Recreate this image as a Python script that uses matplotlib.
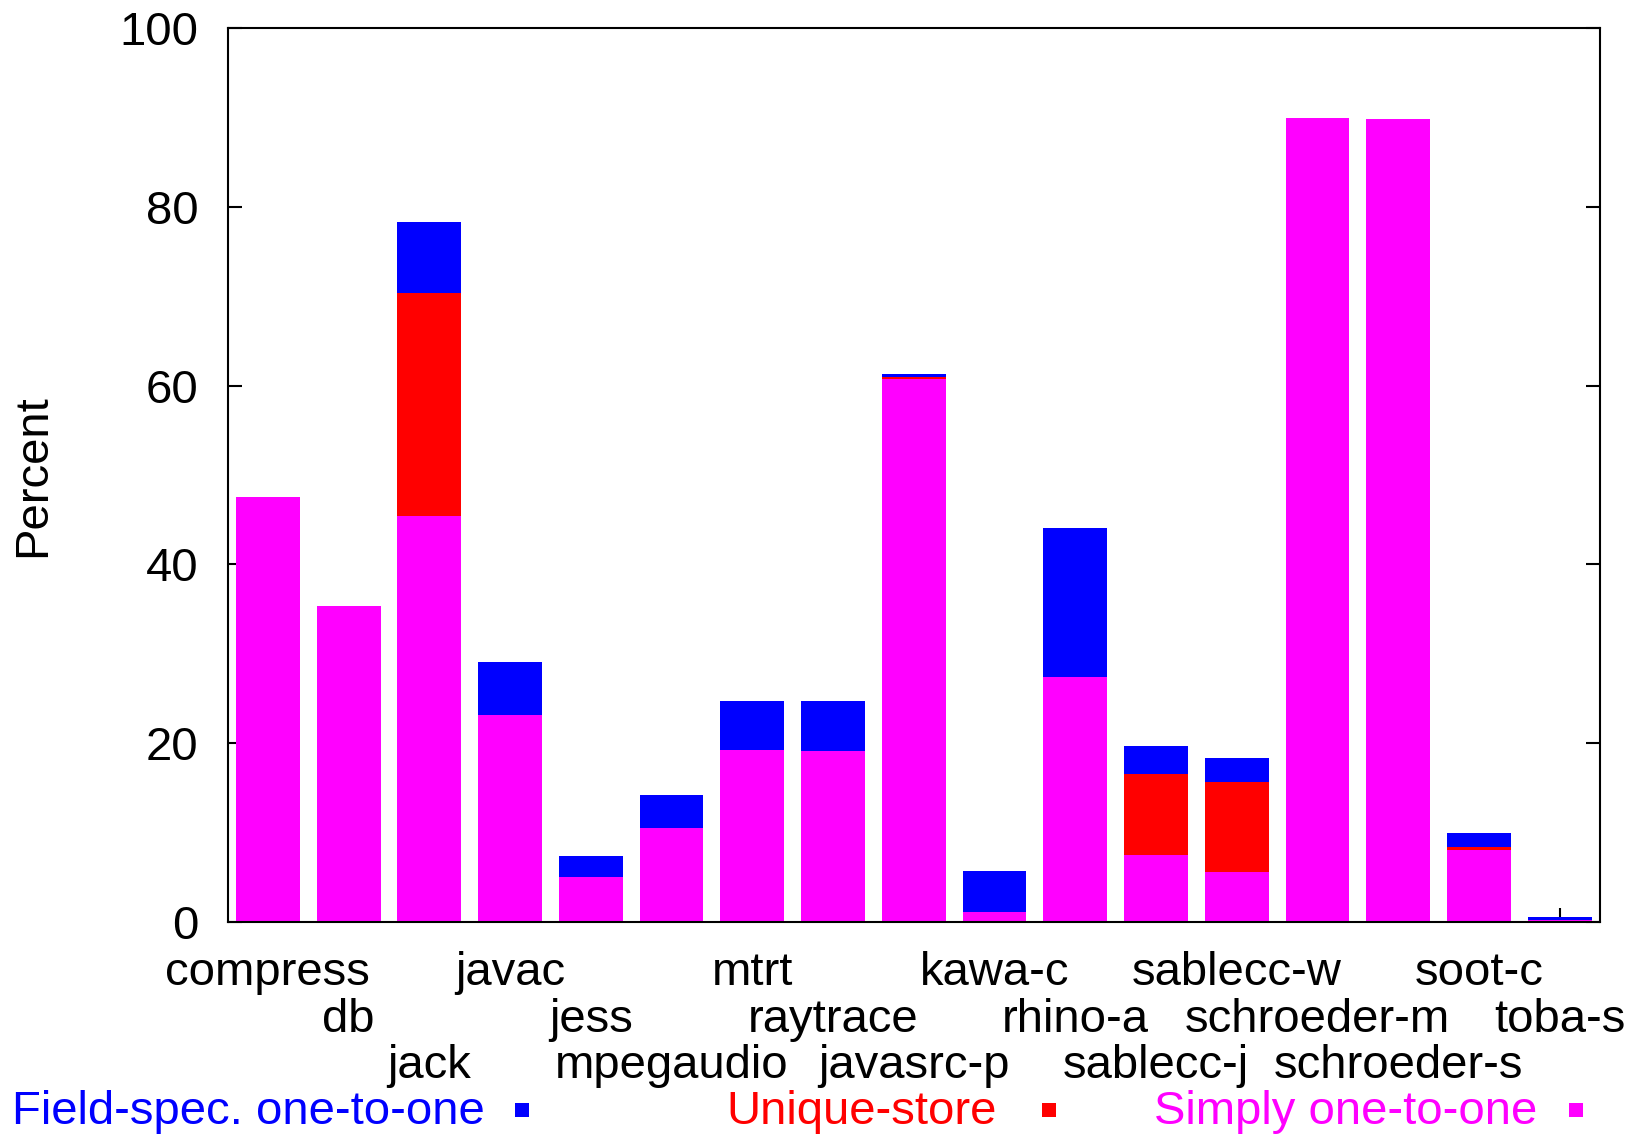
import numpy as np
import matplotlib
matplotlib.use('Agg')
import matplotlib.pyplot as plt
from matplotlib.patches import Rectangle
from matplotlib.transforms import blended_transform_factory

plt.rcParams['font.family'] = ['Liberation Sans', 'DejaVu Sans']

#benchmarks, in the order of the bars
benchmarks = ['compress', 'db', 'jack', 'javac', 'jess', 'mpegaudio', 'mtrt',
              'raytrace', 'javasrc-p', 'kawa-c', 'rhino-a', 'sablecc-j',
              'sablecc-w', 'schroeder-m', 'schroeder-s', 'soot-c', 'toba-s']

#segment heights (percent), stacked bottom to top
simplyOneToOne = [47.5, 35.3, 45.4, 23.1, 5.0, 10.5, 19.2, 19.1, 60.7, 1.1,
                  27.4, 7.4, 5.5, 89.9, 89.8, 8.05, 0.2]
uniqueStore = [0, 0, 24.9, 0, 0, 0, 0, 0, 0.2, 0,
               0, 9.1, 10.1, 0, 0, 0.25, 0]
fieldSpec = [0, 0, 8.0, 6.0, 2.3, 3.7, 5.5, 5.6, 0.4, 4.5,
             16.6, 3.2, 2.7, 0, 0, 1.6, 0.3]

yTicks = [0, 20, 40, 60, 80, 100]

seriesNames = ['Field-spec. one-to-one', 'Unique-store', 'Simply one-to-one']
seriesColors = ['#0000ff', '#ff0000', '#ff00ff']

fs = 34

fig = plt.figure(figsize=(16.37, 11.36), dpi=100)
ax = fig.add_axes([0.139, 0.1888, 0.8384, 0.7864])

x = np.arange(len(benchmarks))
s1 = np.array(simplyOneToOne)
s2 = np.array(uniqueStore)
s3 = np.array(fieldSpec)
w = 0.79
ax.bar(x, s1, w, color=seriesColors[2], linewidth=0)
ax.bar(x, s2, w, bottom=s1, color=seriesColors[1], linewidth=0)
ax.bar(x, s3, w, bottom=s1 + s2, color=seriesColors[0], linewidth=0)

ax.set_xlim(-0.5, len(benchmarks) - 0.5)
ax.set_ylim(0, 100)
ax.set_axisbelow(True)

for sp in ax.spines.values():
    sp.set_linewidth(1.5)

ax.set_yticks(yTicks)
ax.set_yticklabels([str(t) for t in yTicks])
ax.tick_params(axis='y', direction='in', length=10, width=1.5, labelsize=fs,
               pad=21, right=True, left=True)
ax.set_xticks(x)
ax.set_xticklabels([])
ax.tick_params(axis='x', direction='in', length=10, width=1.5, top=False)

#staggered benchmark names, three rows
trans = blended_transform_factory(ax.transData, ax.transAxes)
rowY = [-0.0711, -0.1237, -0.1752]
for i, name in enumerate(benchmarks):
    ax.text(i, rowY[i % 3], name, transform=trans, ha='center', va='baseline',
            fontsize=fs)

fig.text(0.020, 0.5815, 'Percent', rotation=90, ha='center', va='center',
         fontsize=fs)

#key along the bottom: text then small square
keyY = 0.0106
keyTextRight = [0.2963, 0.609, 0.9392]
keyBoxX = [0.3146, 0.6365, 0.9582]
for name, col, tx, bx in zip(seriesNames, seriesColors, keyTextRight, keyBoxX):
    fig.text(tx, keyY, name, color=col, ha='right', va='baseline', fontsize=fs)
    fig.add_artist(Rectangle((bx, keyY + 0.0062), 0.00855, 0.0123,
                             transform=fig.transFigure,
                             facecolor=col, edgecolor='none'))

fig.savefig('out.png', dpi=100)
